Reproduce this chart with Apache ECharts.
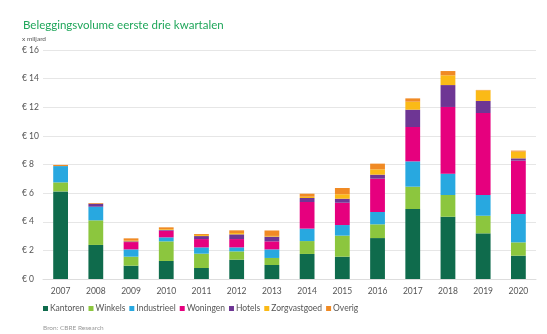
<!DOCTYPE html>
<html><head><meta charset="utf-8">
<script src="https://cdn.jsdelivr.net/npm/echarts@6/dist/echarts.min.js"></script>
<style>html,body{margin:0;padding:0;background:#fff}#c{width:547px;height:334px}</style>
</head><body><div id="c"></div>
<script>
const years = ['2007','2008','2009','2010','2011','2012','2013','2014','2015','2016','2017','2018','2019','2020'];
const kantoren     = [6.12,2.38,0.93,1.26,0.77,1.35,0.98,1.75,1.56,2.86,4.89,4.35,3.19,1.63];
const winkels      = [0.63,1.72,0.63,1.37,1.00,0.58,0.49,0.90,1.47,0.96,1.56,1.52,1.23,0.93];
const industrieel  = [1.14,0.95,0.51,0.28,0.44,0.28,0.60,0.87,0.74,0.86,1.77,1.49,1.45,1.98];
const woningen     = [0,0,0.51,0.47,0.58,0.58,0.56,1.86,1.56,2.33,2.40,4.66,5.73,3.73];
const hotels       = [0,0.21,0.05,0.05,0.21,0.33,0.33,0.28,0.28,0.28,1.21,1.53,0.84,0.16];
const zorgvastgoed = [0,0,0.05,0.05,0.07,0.09,0.05,0.09,0.31,0.37,0.56,0.68,0.74,0.47];
const overig       = [0.08,0.05,0.16,0.13,0.07,0.19,0.38,0.21,0.44,0.40,0.23,0.30,0.03,0.07];
const yTicks = [0,2,4,6,8,10,12,14,16];

const seriesDefs = [
  ['Kantoren', kantoren, '#0f6b4c'],
  ['Winkels', winkels, '#8cc63e'],
  ['Industrieel', industrieel, '#28a8e0'],
  ['Woningen', woningen, '#e6007e'],
  ['Hotels', hotels, '#6e3694'],
  ['Zorgvastgoed', zorgvastgoed, '#fbba16'],
  ['Overig', overig, '#f08a24']
];
const font = 'Lato, "Open Sans", sans-serif';
const chart = echarts.init(document.getElementById('c'));
chart.setOption({
  animation: false,
  textStyle: {fontFamily: font},
  title: [
    {text: 'Beleggingsvolume eerste drie kwartalen', left: 18, top: 14,
     textStyle: {color: '#1fa65a', fontSize: 11.5, fontWeight: 'normal', fontFamily: font}},
    {text: 'x miljard', left: 17, top: 30, textStyle: {color: '#555', fontSize: 6.5, fontWeight: 'normal', fontFamily: font}},
    {text: 'Bron: CBRE Research', left: 38, top: 319, textStyle: {color: '#999', fontSize: 6.5, fontWeight: 'normal', fontFamily: font}}
  ],
  legend: {
    left: 38, top: 299, itemWidth: 5, itemHeight: 5, itemGap: 4,
    icon: 'rect',
    textStyle: {color: '#555', fontSize: 8.5, padding: [0,0,0,-3]},
    data: seriesDefs.map(d => d[0])
  },
  grid: {left: 43, right: 11, top: 50, bottom: 55},
  xAxis: {
    type: 'category', data: years,
    axisLine: {show: true, lineStyle: {color: '#ddd'}},
    axisTick: {show: false},
    axisLabel: {color: '#555', fontSize: 8.5, margin: 8}
  },
  yAxis: {
    type: 'value', min: 0, max: 16, interval: 2,
    axisLine: {show: false}, axisTick: {show: false},
    splitLine: {lineStyle: {color: '#e6e6e6'}},
    axisLabel: {color: '#555', fontSize: 8.5, align: 'left', margin: 21,
      formatter: v => yTicks.includes(v) ? '€ ' + v : ''}
  },
  series: seriesDefs.map(d => ({
    name: d[0], type: 'bar', stack: 'a', data: d[1], barWidth: '42%',
    itemStyle: {color: d[2]}
  }))
});
</script></body></html>
